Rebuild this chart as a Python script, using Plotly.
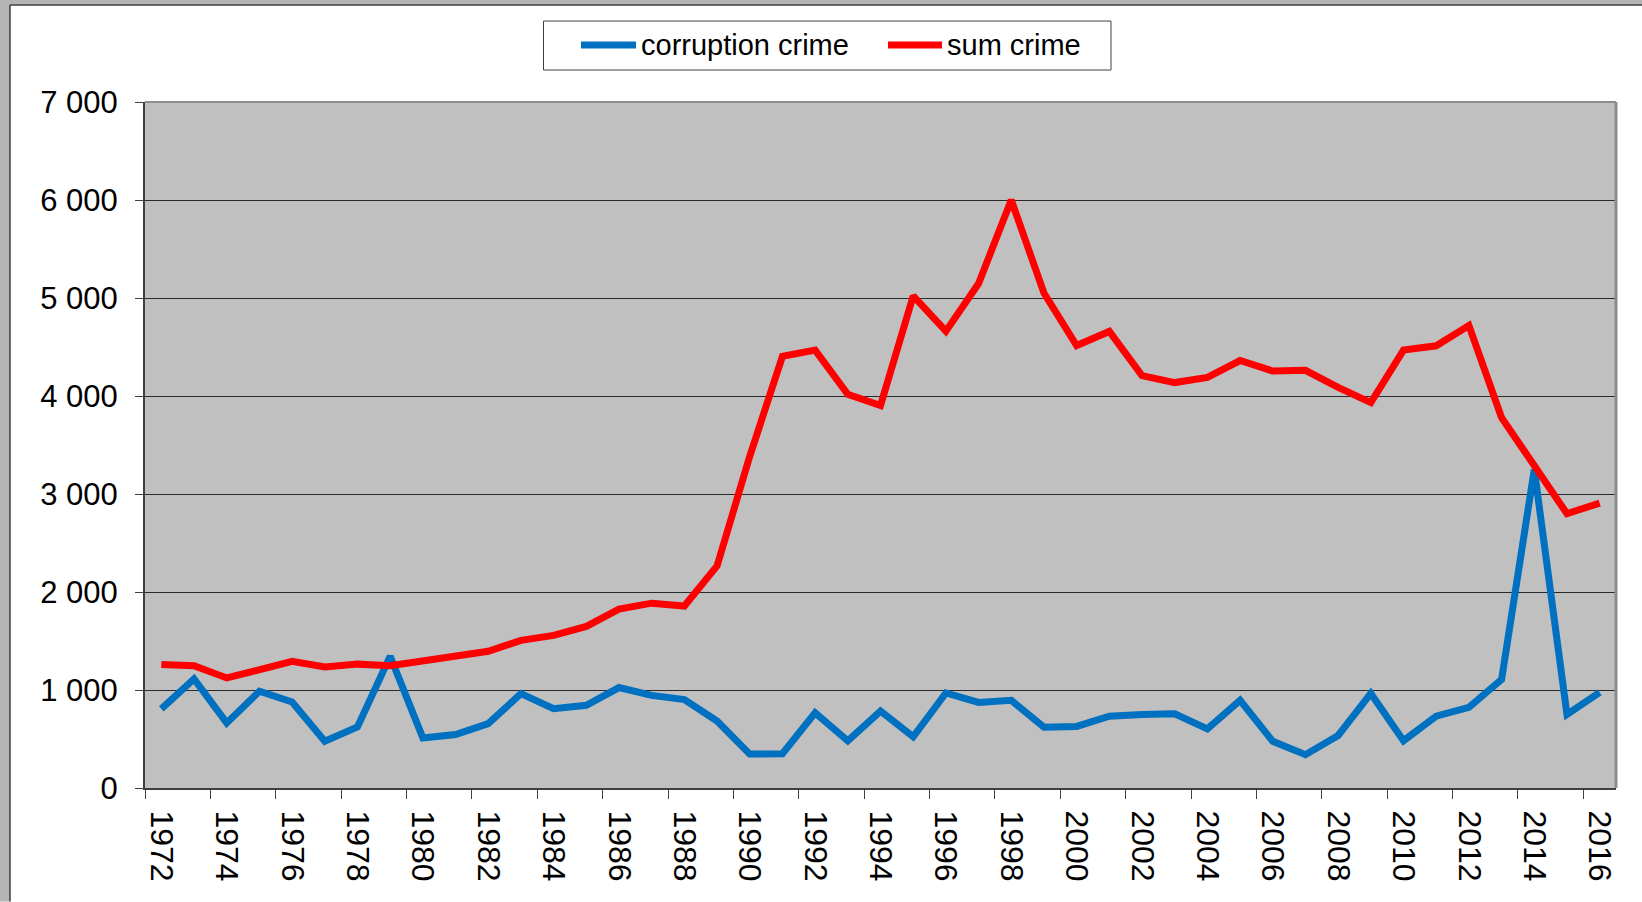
import plotly.graph_objects as go

# years on the category axis
years = list(range(1972, 2017))

# corruption crime (blue)
corruption = [807, 1113, 664, 987, 878, 477, 623, 1344, 511, 545,
              657, 963, 810, 844, 1025, 945, 903, 684, 346, 350,
              768, 481, 785, 523, 970, 873, 895, 620, 628, 733,
              751, 758, 604, 894, 476, 340, 536, 965, 483, 733,
              822, 1108, 3250, 751, 976]

# sum crime (red)
sum_crime = [1259, 1248, 1123, 1208, 1292, 1235, 1264, 1248, 1303, 1344,
             1395, 1506, 1557, 1649, 1825, 1886, 1857, 2266, 3384, 4405,
             4468, 4017, 3903, 5021, 4662, 5148, 6000, 5051, 4515, 4659,
             4208, 4137, 4190, 4362, 4255, 4262, 4087, 3933, 4469, 4512,
             4719, 3779, 3290, 2799, 2907]

series_names = ["corruption crime", "sum crime"]
series_colors = ["#0070C0", "#FF0000"]

label_years = years[::2]

W, H = 1642, 902
L, R, T, B = 145, 1616, 102, 788.5

def px2x(px):
    return (px - L) / (R - L)

def py2y(py):
    return (B - py) / (B - T)

FONT = "Liberation Sans, Arial, sans-serif"

fig = go.Figure()
fig.add_trace(go.Scatter(x=years, y=corruption, mode="lines", name=series_names[0],
                         line=dict(color=series_colors[0], width=7)))
fig.add_trace(go.Scatter(x=years, y=sum_crime, mode="lines", name=series_names[1],
                         line=dict(color=series_colors[1], width=7)))

fig.update_layout(
    width=W,
    height=H,
    margin=dict(l=L, r=W - R, t=T, b=H - B),
    paper_bgcolor="white",
    plot_bgcolor="#C0C0C0",
    font=dict(family=FONT, color="black", size=30),
    separators=". ",
    showlegend=False,
)

fig.update_xaxes(
    range=[years[0] - 0.5, years[-1] + 0.5],
    tickmode="array",
    tickvals=label_years,
    ticktext=[str(y) for y in label_years],
    tickangle=90,
    ticks="",
    ticklabelstandoff=14,
    showgrid=False,
    zeroline=False,
    showline=True,
    linecolor="#404040",
    linewidth=2,
    minor=dict(
        tickmode="array",
        tickvals=[y - 0.5 for y in label_years],
        ticks="outside",
        ticklen=9,
        tickcolor="#404040",
        tickwidth=1,
        showgrid=False,
    ),
    tickfont=dict(size=32),
)

fig.update_yaxes(
    range=[0, 7000],
    dtick=1000,
    tickformat=",d",
    ticks="outside",
    ticklen=8,
    tickcolor="#404040",
    ticklabelstandoff=11,
    showgrid=True,
    gridcolor="#2a2a2a",
    gridwidth=1.2,
    zeroline=False,
    showline=True,
    linecolor="#404040",
    linewidth=2,
    tickfont=dict(size=31),
)

shapes = [
    # light gray border on top and right of the plot area
    dict(type="line", xref="paper", yref="paper", x0=0, x1=1, y0=1, y1=1,
         line=dict(color="#8C8C8C", width=2), layer="above"),
    dict(type="line", xref="paper", yref="paper", x0=1, x1=1, y0=0, y1=1,
         line=dict(color="#8C8C8C", width=3), layer="above"),
    # window frame on the left and top edge
    dict(type="rect", xref="paper", yref="paper", x0=px2x(0), x1=px2x(10),
         y0=py2y(H), y1=py2y(0), fillcolor="#B4B4B4", line=dict(width=0), layer="above"),
    dict(type="rect", xref="paper", yref="paper", x0=px2x(0), x1=px2x(W),
         y0=py2y(5), y1=py2y(0), fillcolor="#B4B4B4", line=dict(width=0), layer="above"),
    dict(type="line", xref="paper", yref="paper", x0=px2x(10), x1=px2x(10),
         y0=py2y(H), y1=py2y(5), line=dict(color="#404040", width=1.5), layer="above"),
    dict(type="line", xref="paper", yref="paper", x0=px2x(10), x1=px2x(W),
         y0=py2y(5), y1=py2y(5), line=dict(color="#404040", width=1.5), layer="above"),
    # legend box
    dict(type="rect", xref="paper", yref="paper", x0=px2x(543.5), x1=px2x(1111),
         y0=py2y(70), y1=py2y(21), fillcolor="white",
         line=dict(color="#404040", width=1), layer="above"),
]

# hand-drawn legend: long line samples like the original
legend_items = [(581, 636, 640), (888, 942, 946)]
annotations = []
for (lx0, lx1, tx), name, color in zip(legend_items, series_names, series_colors):
    shapes.append(dict(type="line", xref="paper", yref="paper",
                       x0=px2x(lx0), x1=px2x(lx1), y0=py2y(45), y1=py2y(45),
                       line=dict(color=color, width=7), layer="above"))
    annotations.append(dict(xref="paper", yref="paper", x=px2x(tx), y=py2y(45),
                            xanchor="left", yanchor="middle", text=name,
                            showarrow=False, font=dict(size=29, color="black"),
                            borderpad=0))

fig.update_layout(shapes=shapes, annotations=annotations)

fig.write_html("out.html", config={"displayModeBar": False},
               post_script="document.body.style.margin='0px';")
